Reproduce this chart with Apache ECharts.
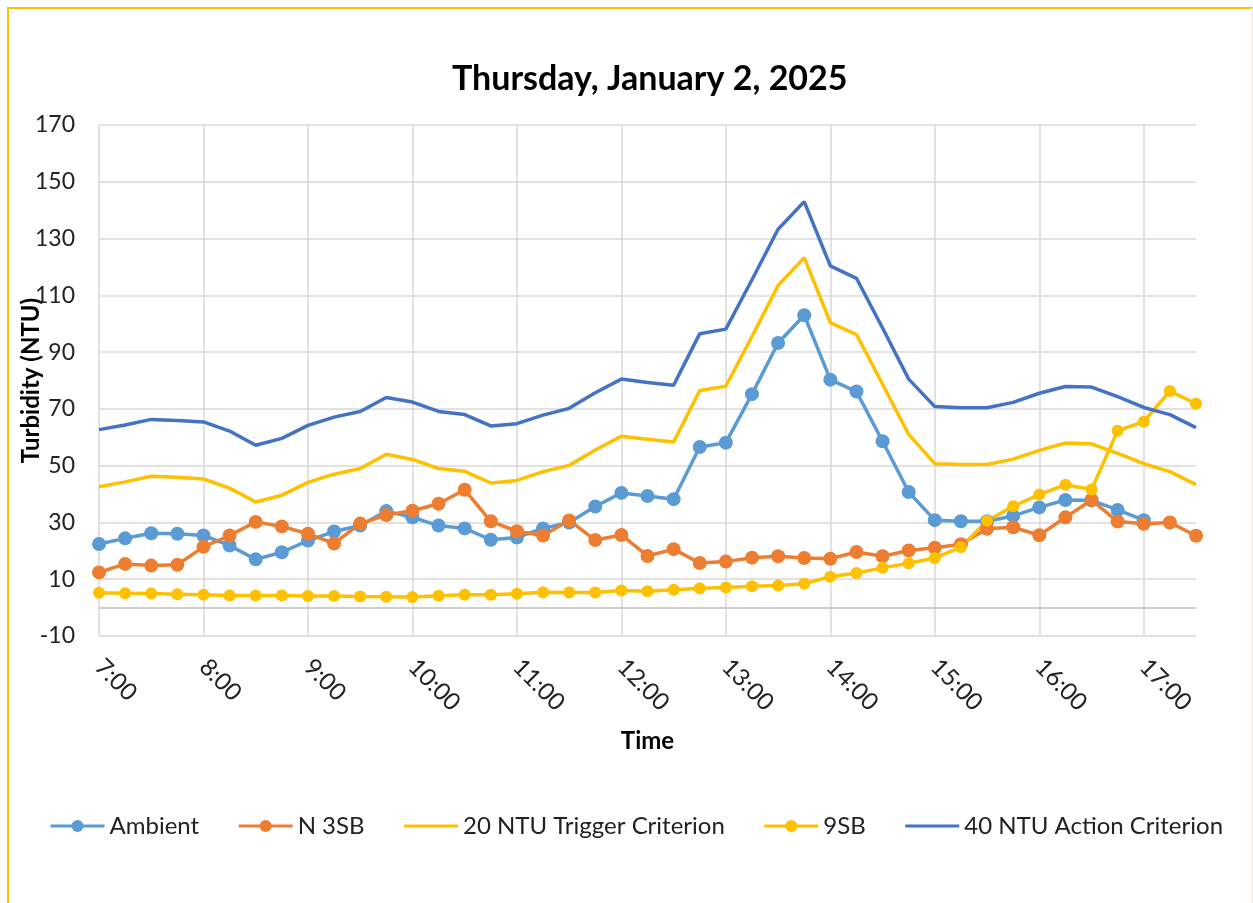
<!DOCTYPE html>
<html>
<head>
<meta charset="utf-8">
<script src="https://cdn.jsdelivr.net/npm/echarts@6/dist/echarts.min.js"></script>
<style>
  html, body { margin: 0; padding: 0; background: #fff; }
  #chart { width: 1253px; height: 903px; }
  .frame {
    position: absolute; left: 7px; top: 7px; width: 1242px; height: 920px;
    border: 2px solid #ffc000; border-right-color: #f1efe6; pointer-events: none;
  }
</style>
</head>
<body>
<div id="chart"></div>
<div class="frame"></div>
<script>
// 15 minute readings, 7:00 - 17:30
const times = ['7:00', '7:15', '7:30', '7:45', '8:00', '8:15', '8:30', '8:45', '9:00', '9:15', '9:30', '9:45',
  '10:00', '10:15', '10:30', '10:45', '11:00', '11:15', '11:30', '11:45', '12:00', '12:15', '12:30', '12:45',
  '13:00', '13:15', '13:30', '13:45', '14:00', '14:15', '14:30', '14:45', '15:00', '15:15', '15:30', '15:45',
  '16:00', '16:15', '16:30', '16:45', '17:00', '17:15', '17:30']

const ambient = [22.4, 24.4, 26.2, 26, 25.4, 21.9, 17, 19.5, 23.6, 26.8, 28.9, 34,
  31.8, 28.9, 27.9, 23.9, 24.7, 27.9, 30, 35.6, 40.4, 39.3, 38.2, 56.6,
  58.1, 75.2, 93.2, 103, 80.3, 76.1, 58.6, 40.7, 30.8, 30.4, 30.4, 32.3,
  35.3, 37.9, 37.8, 34.4, 30.8, null, null]

const n3sb = [12.4, 15.4, 14.8, 15.1, 21.4, 25.4, 30.2, 28.6, 26, 22.6, 29.6, 32.6,
  34.1, 36.6, 41.5, 30.4, 26.9, 25.4, 30.7, 23.8, 25.6, 18.2, 20.6, 15.7,
  16.2, 17.6, 18.1, 17.5, 17.2, 19.6, 18.1, 20.1, 21.1, 22.3, 27.8, 28.3,
  25.5, 31.8, 37.9, 30.3, 29.5, 30, 25.3]

const trigger20 = [42.6, 44.3, 46.3, 45.9, 45.3, 42.1, 37.2, 39.6, 44.1, 47, 49, 54,
  52.2, 49, 48, 43.9, 44.8, 47.9, 50.1, 55.5, 60.4, 59.3, 58.3, 76.5,
  78, 95.5, 113.5, 123.3, 100.4, 96.2, 78.7, 61, 50.7, 50.4, 50.4, 52.3,
  55.4, 58, 57.7, 54.3, 50.7, 47.9, 43.3]

const sb9 = [5.2, 5.1, 5, 4.7, 4.5, 4.3, 4.3, 4.3, 4.1, 4.1, 3.9, 3.8,
  3.7, 4.2, 4.5, 4.5, 4.9, 5.4, 5.3, 5.3, 6, 5.8, 6.3, 6.8,
  7.1, 7.5, 7.8, 8.4, 10.9, 12.2, 14, 15.6, 17.5, 21.3, 30.6, 35.7,
  39.8, 43.3, 41.6, 62.3, 65.5, 76.3, 71.8]

const action40 = [62.7, 64.3, 66.3, 65.9, 65.4, 62.2, 57.2, 59.6, 64.2, 67.1, 69.1, 74,
  72.4, 69.1, 68, 64, 64.8, 67.8, 70.2, 75.7, 80.5, 79.3, 78.3, 96.5,
  98.1, 115.5, 133.3, 143, 120.4, 116, 98.5, 80.5, 70.8, 70.4, 70.4, 72.3,
  75.5, 77.9, 77.7, 74.3, 70.5, 68, 63.4]

const font = 'Lato, "Open Sans", sans-serif'
const hourly = (i) => i % 4 === 0

function lineSeries (name, data, color, symbolSize) {
  return {
    name: name,
    type: 'line',
    data: data,
    symbol: symbolSize ? 'circle' : 'none',
    symbolSize: symbolSize || 0,
    showSymbol: !!symbolSize,
    connectNulls: false,
    lineStyle: { color: color, width: 3.5 },
    itemStyle: { color: color },
    emphasis: { disabled: true }
  }
}

const ambientSeries = lineSeries('Ambient', ambient, '#5b9bd5', 14)
// darker horizontal line at 0
ambientSeries.markLine = {
  silent: true,
  symbol: 'none',
  z: 1,
  label: { show: false },
  lineStyle: { color: '#bfbfbf', width: 1.5, type: 'solid' },
  emphasis: { disabled: true },
  data: [{ yAxis: 0 }]
}

const myChart = echarts.init(document.getElementById('chart'))
const option = {
  animation: false,
  backgroundColor: '#fff',
  textStyle: { fontFamily: font },
  title: {
    text: 'Thursday, January 2, 2025',
    left: 447,
    top: 57,
    textStyle: { fontFamily: font, fontSize: 34, fontWeight: 'bold', color: '#000' }
  },
  legend: {
    left: 44,
    top: 809,
    itemWidth: 54,
    itemHeight: 15,
    itemGap: 38,
    lineStyle: { width: 3 },
    textStyle: { fontFamily: font, fontSize: 24, color: '#222' },
    data: [
      { name: 'Ambient' },
      { name: 'N 3SB' },
      { name: '20 NTU Trigger Criterion', itemStyle: { opacity: 0 } },
      { name: '9SB' },
      { name: '40 NTU Action Criterion', itemStyle: { opacity: 0 } }
    ]
  },
  grid: { left: 99, right: 57, top: 125, bottom: 267, containLabel: false },
  xAxis: {
    type: 'category',
    data: times,
    boundaryGap: false,
    name: 'Time',
    nameLocation: 'middle',
    nameGap: 93,
    nameMoveOverlap: false,
    nameTextStyle: { fontFamily: font, fontSize: 24, fontWeight: 'bold', color: '#000' },
    axisLine: { show: false },
    axisTick: { show: false },
    axisLabel: {
      interval: 3,
      rotate: -45,
      margin: 27,
      fontFamily: font,
      fontSize: 24,
      color: '#222'
    },
    splitLine: { show: true, interval: hourly, lineStyle: { color: '#d9d9d9', width: 1.5 } }
  },
  yAxis: {
    type: 'value',
    min: -10,
    max: 170,
    interval: 20,
    name: 'Turbidity (NTU)',
    nameLocation: 'middle',
    nameGap: 56,
    nameMoveOverlap: false,
    nameTextStyle: { fontFamily: font, fontSize: 24, fontWeight: 'bold', color: '#000' },
    axisLine: { show: false },
    axisTick: { show: false },
    axisLabel: { margin: 24, fontFamily: font, fontSize: 23, color: '#222' },
    splitLine: { lineStyle: { color: '#d9d9d9', width: 1.5 } }
  },
  series: [
    ambientSeries,
    lineSeries('N 3SB', n3sb, '#ed7d31', 14),
    lineSeries('20 NTU Trigger Criterion', trigger20, '#ffc000'),
    lineSeries('9SB', sb9, '#ffc000', 12),
    lineSeries('40 NTU Action Criterion', action40, '#4472c4')
  ]
}
myChart.setOption(option)
</script>
</body>
</html>
